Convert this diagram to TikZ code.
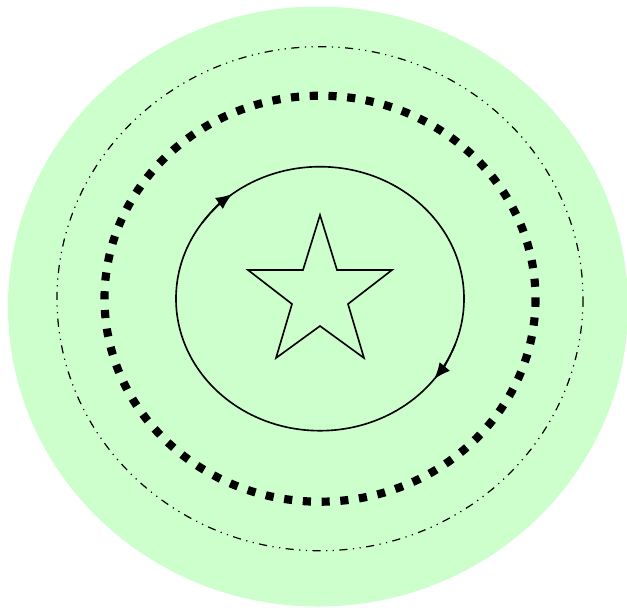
\documentclass[tikz,border=0pt]{standalone}
\usetikzlibrary{arrows.meta}
\definecolor{bggreen}{RGB}{204,255,204}
\tikzset{
  thinline/.style={line width=0.6pt, line join=miter},
  dashring/.style={line width=0.45pt, dash dot dot},
  dotring/.style={line width=3pt, dash pattern=on 3pt off 3.9pt},
  arrowtip/.style={thinline, -{Latex[length=6pt, width=5pt]}}
}
\begin{document}
\begin{tikzpicture}[x=0.3676pt, y=-0.3676pt]
  \useasboundingbox (0,0) rectangle (627,607);
  \coordinate (c) at (320,298.7);
  % background
  \fill[bggreen] (318,306.5) ellipse [x radius=310, y radius=300];
  % dash dot dot ring
  \draw[dashring] (c) ellipse [x radius=263, y radius=252];
  % thick dotted ring
  \draw[dotring] (c) ellipse [x radius=215.5, y radius=203];
  % inner ellipse
  \draw[thinline] (c) ellipse [x radius=144, y radius=132];
  % arrowheads on inner ellipse
  \draw[arrowtip] (c) ++(215:144 and 132) arc [start angle=215, end angle=232.5, x radius=144, y radius=132];
  \draw[arrowtip] (c) ++(20:144 and 132) arc [start angle=20, end angle=37.5, x radius=144, y radius=132];
  % star
  \draw[thinline] (320,215) -- (337,270) -- (392,270) -- (348,304) -- (364,358)
    -- (320,326) -- (276,358) -- (292,304) -- (248,270) -- (303,270) -- cycle;
\end{tikzpicture}
\end{document}
